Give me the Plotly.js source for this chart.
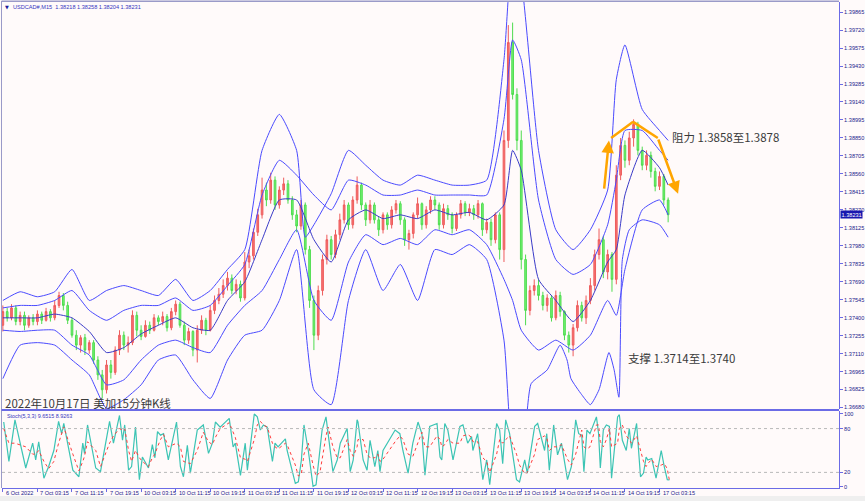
<!DOCTYPE html>
<html><head><meta charset="utf-8">
<script src="https://cdn.plot.ly/plotly-3.0.1.min.js"></script>
<style>html,body{margin:0;padding:0;background:#fffafa;}#chart{width:865px;height:501px;}</style>
</head><body><div id="chart"></div>
<script>
// ---- hourly candles (USDCAD) ----
const open = [1.3734,1.3745,1.3740,1.3748,1.3737,1.3742,1.3734,1.3740,1.3737,1.3743,
1.3738,1.3745,1.3740,1.3750,1.3758,1.3750,1.3738,1.3726,1.3718,1.3724,
1.3714,1.3720,1.3706,1.3694,1.3682,1.3702,1.3696,1.3714,1.3726,1.3718,
1.3720,1.3742,1.3730,1.3725,1.3734,1.3730,1.3740,1.3737,1.3741,1.3732,
1.3745,1.3751,1.3734,1.3722,1.3729,1.3714,1.3730,1.3738,1.3730,1.3746,
1.3754,1.3759,1.3766,1.3772,1.3762,1.3767,1.3756,1.3785,1.3790,1.3809,
1.3823,1.3843,1.3835,1.3851,1.3831,1.3843,1.3848,1.3835,1.3823,1.3814,
1.3831,1.3795,1.3754,1.3726,1.3762,1.3787,1.3803,1.3791,1.3807,1.3819,
1.3831,1.3815,1.3835,1.3847,1.3831,1.3819,1.3831,1.3819,1.3811,1.3823,
1.3815,1.3827,1.3832,1.3819,1.3803,1.3808,1.3823,1.3832,1.3815,1.3827,
1.3835,1.3831,1.3815,1.3828,1.3823,1.3812,1.3823,1.3832,1.3825,1.3828,
1.3823,1.3832,1.3811,1.3817,1.3803,1.3823,1.3795,1.3883,1.3962,1.3920,
1.3883,1.3787,1.3746,1.3762,1.3766,1.3758,1.3750,1.3756,1.3740,1.3758,
1.3745,1.3726,1.3718,1.3732,1.3750,1.3740,1.3754,1.3766,1.3791,1.3803,
1.3777,1.3791,1.3771,1.3855,1.3879,1.3867,1.3885,1.3896,1.3875,1.3863,
1.3871,1.3858,1.3846,1.3854,1.3835];
const high = [1.3750,1.3748,1.3751,1.3750,1.3745,1.3745,1.3742,1.3743,1.3746,1.3745,
1.3748,1.3747,1.3754,1.3761,1.3760,1.3753,1.3740,1.3730,1.3726,1.3727,
1.3722,1.3722,1.3709,1.3698,1.3706,1.3706,1.3717,1.3730,1.3729,1.3725,
1.3746,1.3745,1.3734,1.3738,1.3737,1.3743,1.3742,1.3745,1.3743,1.3748,
1.3754,1.3753,1.3737,1.3732,1.3730,1.3734,1.3742,1.3740,1.3750,1.3758,
1.3764,1.3771,1.3777,1.3775,1.3771,1.3770,1.3793,1.3795,1.3812,1.3828,
1.3853,1.3849,1.3857,1.3854,1.3846,1.3853,1.3851,1.3838,1.3827,1.3835,
1.3833,1.3798,1.3758,1.3766,1.3791,1.3807,1.3806,1.3811,1.3824,1.3835,
1.3833,1.3838,1.3854,1.3849,1.3833,1.3835,1.3833,1.3822,1.3825,1.3825,
1.3830,1.3835,1.3834,1.3821,1.3811,1.3825,1.3837,1.3833,1.3830,1.3838,
1.3838,1.3833,1.3832,1.3831,1.3825,1.3825,1.3835,1.3834,1.3832,1.3831,
1.3835,1.3833,1.3820,1.3820,1.3825,1.3825,1.3891,1.3976,1.3978,1.3925,
1.3891,1.3791,1.3766,1.3771,1.3771,1.3761,1.3759,1.3758,1.3762,1.3761,
1.3746,1.3729,1.3735,1.3754,1.3753,1.3758,1.3772,1.3795,1.3812,1.3806,
1.3795,1.3793,1.3863,1.3885,1.3883,1.3890,1.3900,1.3898,1.3878,1.3875,
1.3874,1.3861,1.3858,1.3856,1.3837];
const low = [1.3729,1.3737,1.3738,1.3734,1.3734,1.3730,1.3732,1.3734,1.3734,1.3735,
1.3737,1.3737,1.3738,1.3748,1.3746,1.3735,1.3724,1.3714,1.3712,1.3710,
1.3711,1.3703,1.3690,1.3675,1.3679,1.3691,1.3694,1.3710,1.3714,1.3712,
1.3718,1.3725,1.3722,1.3724,1.3727,1.3729,1.3734,1.3734,1.3729,1.3730,
1.3742,1.3732,1.3718,1.3719,1.3709,1.3704,1.3727,1.3726,1.3729,1.3743,
1.3751,1.3756,1.3762,1.3759,1.3759,1.3753,1.3754,1.3780,1.3787,1.3806,
1.3820,1.3830,1.3832,1.3827,1.3828,1.3839,1.3832,1.3819,1.3809,1.3811,
1.3791,1.3748,1.3714,1.3722,1.3758,1.3783,1.3787,1.3788,1.3803,1.3816,
1.3811,1.3812,1.3832,1.3827,1.3814,1.3816,1.3816,1.3806,1.3808,1.3811,
1.3812,1.3824,1.3815,1.3798,1.3795,1.3804,1.3820,1.3811,1.3812,1.3824,
1.3827,1.3811,1.3812,1.3819,1.3808,1.3810,1.3820,1.3822,1.3822,1.3819,
1.3820,1.3806,1.3808,1.3798,1.3800,1.3787,1.3785,1.3877,1.3916,1.3875,
1.3779,1.3734,1.3742,1.3758,1.3754,1.3746,1.3745,1.3737,1.3738,1.3741,
1.3722,1.3712,1.3709,1.3729,1.3737,1.3735,1.3751,1.3762,1.3787,1.3772,
1.3771,1.3761,1.3767,1.3851,1.3861,1.3863,1.3878,1.3871,1.3859,1.3859,
1.3853,1.3842,1.3843,1.3831,1.3817];
const close = [1.3745,1.3740,1.3748,1.3737,1.3742,1.3734,1.3740,1.3737,1.3743,1.3738,
1.3745,1.3740,1.3750,1.3758,1.3750,1.3738,1.3726,1.3718,1.3724,1.3714,
1.3720,1.3706,1.3694,1.3682,1.3702,1.3696,1.3714,1.3726,1.3718,1.3720,
1.3742,1.3730,1.3725,1.3734,1.3730,1.3740,1.3737,1.3741,1.3732,1.3745,
1.3751,1.3734,1.3722,1.3729,1.3714,1.3730,1.3738,1.3730,1.3746,1.3754,
1.3759,1.3766,1.3772,1.3762,1.3767,1.3756,1.3785,1.3790,1.3809,1.3823,
1.3843,1.3835,1.3851,1.3831,1.3843,1.3848,1.3835,1.3823,1.3814,1.3831,
1.3795,1.3754,1.3726,1.3762,1.3787,1.3803,1.3791,1.3807,1.3819,1.3831,
1.3815,1.3835,1.3847,1.3831,1.3819,1.3831,1.3819,1.3811,1.3823,1.3815,
1.3827,1.3832,1.3819,1.3803,1.3808,1.3823,1.3832,1.3815,1.3827,1.3835,
1.3831,1.3815,1.3828,1.3823,1.3812,1.3823,1.3832,1.3825,1.3828,1.3823,
1.3832,1.3811,1.3817,1.3803,1.3823,1.3795,1.3883,1.3962,1.3920,1.3883,
1.3787,1.3746,1.3762,1.3766,1.3758,1.3750,1.3756,1.3740,1.3758,1.3745,
1.3726,1.3718,1.3732,1.3750,1.3740,1.3754,1.3766,1.3791,1.3803,1.3777,
1.3791,1.3771,1.3855,1.3879,1.3867,1.3885,1.3896,1.3875,1.3863,1.3871,
1.3858,1.3846,1.3854,1.3835,1.38231];

// ---- band lines (sampled, hour index) ----
const bandX = [0,4,8,12,16,20,24,28,32,36,40,44,48,52,56,60,64,68,72,76,80,84,88,92,96,100,104,108,112,116,118,120,124,128,132,136,140,142,144,148,152,154];
const outerUpperX = [0,4,8,12,16,20,24,28,32,36,40,44,48,52,56,60,64,68,70,72,76,80,84,88,92,96,100,104,108,112,116,118,120,124,128,132,136,140,142,144,148,152,154];
const outerUpper = [1.3754,1.3761,1.3757,1.3761,1.3779,1.3754,1.3762,1.3766,1.3762,1.3758,1.3771,1.3754,1.3762,1.3779,1.3795,1.3875,1.3904,1.3875,1.3805,1.3815,1.3840,1.3875,1.3863,1.3851,1.3847,1.3855,1.3851,1.3847,1.3847,1.3851,1.3948,1.4037,1.4012,1.3875,1.3811,1.3795,1.3811,1.3843,1.3932,1.3960,1.3908,1.3891,1.3883];
const innerUpper = [1.3748,1.3750,1.3750,1.3754,1.3762,1.3746,1.3738,1.3746,1.3750,1.3750,1.3756,1.3746,1.3750,1.3766,1.3783,1.3839,1.3867,1.3855,1.3839,1.3827,1.3851,1.3847,1.3839,1.3839,1.3843,1.3839,1.3839,1.3839,1.3839,1.3900,1.3964,1.3948,1.3835,1.3787,1.3775,1.3783,1.3815,1.3851,1.3891,1.3891,1.3875,1.3867];
const middle = [1.3740,1.3740,1.3740,1.3743,1.3740,1.3729,1.3712,1.3716,1.3727,1.3734,1.3740,1.3732,1.3730,1.3754,1.3769,1.3803,1.3835,1.3835,1.3803,1.3785,1.3819,1.3827,1.3820,1.3823,1.3820,1.3827,1.3823,1.3825,1.3819,1.3831,1.3875,1.3859,1.3771,1.3754,1.3737,1.3754,1.3785,1.3795,1.3839,1.3875,1.3861,1.3847];
const innerLower = [1.3730,1.3729,1.3730,1.3730,1.3718,1.3710,1.3686,1.3690,1.3706,1.3718,1.3722,1.3716,1.3712,1.3734,1.3750,1.3762,1.3787,1.3811,1.3754,1.3738,1.3785,1.3807,1.3799,1.3804,1.3799,1.3811,1.3807,1.3811,1.3799,1.3771,1.3754,1.3730,1.3714,1.3722,1.3714,1.3726,1.3754,1.3742,1.3779,1.3827,1.3835,1.3823];
const outerLowerX = [0,4,8,12,16,20,24,28,32,36,40,44,48,52,56,60,64,68,72,76,80,84,88,92,96,100,104,108,112,116,118,120,121,122.3,126,129,130.6,131.5,134,136,138,140.3,141.5,142.6,143.4,145,148,152,154];
const outerLower = [1.3691,1.3718,1.3720,1.3718,1.3706,1.3694,1.3667,1.3674,1.3686,1.3706,1.3710,1.3690,1.3675,1.3706,1.3726,1.3730,1.3754,1.3795,1.3682,1.3670,1.3754,1.3795,1.3762,1.3783,1.3754,1.3795,1.3791,1.3799,1.3787,1.3722,1.3634,1.3625,1.3650,1.3687,1.3698,1.3718,1.3706,1.3691,1.3678,1.3670,1.3682,1.3712,1.3698,1.3676,1.3787,1.3811,1.3819,1.3815,1.3805];

// ---- stochastic (5,3,3) ----
const stochX = [0.2,1.4,2.8,5.3,6.9,7.6,8.3,9.5,10.6,11.8,12.9,13.6,14.1,16.2,17.6,18.5,18.9,19.6,21.5,22.6,24.7,25.6,27.0,27.7,28.2,29.1,29.8,30.7,31.6,32.3,33.7,34.6,35.2,35.8,36.5,37.2,38.3,40.2,41.1,41.8,42.7,43.4,45.0,46.4,47.6,48.5,49.2,50.3,52.4,53.3,53.8,55.0,56.1,56.6,58.2,58.9,59.6,60.3,61.2,62.4,63.0,63.7,65.4,65.8,67.7,68.4,69.1,69.7,70.7,71.8,72.5,73.4,73.9,74.8,75.3,76.4,77.4,78.1,79.7,80.4,81.1,82.0,82.2,83.4,84.3,85.0,86.1,86.8,87.3,88.0,90.8,91.9,92.6,93.8,94.9,96.1,97.0,97.7,98.8,100.5,101.2,101.6,102.3,103.0,104.2,105.8,106.5,107.6,108.5,108.8,109.9,111.1,112.0,112.7,114.3,115.0,115.7,116.4,117.3,118.9,119.6,120.8,121.4,123.1,123.8,125.4,125.9,126.5,127.5,128.4,129.3,130.7,131.6,132.6,133.3,134.0,134.5,135.2,135.9,137.1,137.4,137.9,138.3,139.0,139.7,140.4,140.9,142.3,142.7,143.4,144.3,145.0,145.5,146.7,147.6,148.3,148.9,149.3,150.2,151.2,152.4,153.1,153.8,154.3];
const stochK = [89,35,92,26,60,37,62,12,28,50,90,73,87,23,14,60,46,85,26,21,90,60,98,64,85,23,28,82,10,41,26,58,40,76,71,73,37,89,28,14,57,19,78,85,46,60,89,82,94,55,60,16,60,23,100,96,78,85,82,35,60,55,66,50,5,7,37,85,50,1,3,48,78,96,73,21,37,60,80,21,37,92,89,37,23,64,28,50,21,50,78,73,50,19,60,89,73,16,83,87,41,37,87,78,37,83,85,60,69,50,73,10,37,3,87,78,32,92,73,10,7,37,19,83,87,50,73,23,85,44,60,10,28,92,73,71,21,78,73,92,96,73,26,78,85,83,12,96,99,64,50,80,53,87,14,19,41,37,39,12,50,28,10,9.65];
const stochD = [80,60,60,55,45,45,50,35,25,35,60,75,82,45,22,35,42,62,50,28,60,70,80,78,80,50,35,50,40,35,28,40,45,55,65,72,55,60,55,35,33,32,50,75,62,58,68,80,88,75,68,40,38,35,65,85,90,85,82,60,55,52,60,58,30,15,18,45,60,30,15,20,40,70,82,55,40,40,65,50,42,55,65,65,45,40,40,45,35,38,62,70,65,45,42,60,75,55,55,70,65,55,58,65,60,60,70,72,68,62,62,40,35,20,45,65,60,65,70,45,30,18,20,45,65,70,68,50,55,55,58,38,30,45,62,78,55,52,55,78,85,85,62,55,65,80,55,60,80,85,70,65,60,70,50,35,28,32,38,28,30,32,25,8.93];

// ---- axis labels ----
const timeTickPos = [0,8,16,24,32,40,48,56,64,72,80,88,96,104,112,120,128,136,144,152];
const timeTickText = ['6 Oct 2022','7 Oct 03:15','7 Oct 11:15','7 Oct 19:15','10 Oct 03:15','10 Oct 11:15','10 Oct 19:15','11 Oct 03:15','11 Oct 11:15','11 Oct 19:15','12 Oct 03:15','12 Oct 11:15','12 Oct 19:15','13 Oct 03:15','13 Oct 11:15','13 Oct 19:15','14 Oct 03:15','14 Oct 11:15','14 Oct 19:15','17 Oct 03:15'];
const priceTicks = [1.39865,1.39720,1.39575,1.39430,1.39285,1.39140,1.38995,1.38850,1.38705,1.38560,1.38415,1.38270,1.38125,1.37980,1.37835,1.37690,1.37545,1.37400,1.37255,1.37110,1.36965,1.36825,1.36680];
const stochTicks = [0,20,80,100];
const lastPrice = 1.38231;

// pixel -> paper helpers (positioning only)
const fx = px => (px - 2) / 837;
const fy = py => (488 - py) / 486;

const AX = '#6b6be6', TXT = '#22228c';
const tf = {family:'Liberation Sans, Arial, sans-serif', size:5.6, color:TXT};
const idx = open.map((_, i) => i);

const bandLine = (xs, y, c, w) => ({type:'scatter', mode:'lines', x:xs, y:y, xaxis:'x', yaxis:'y',
  line:{color:c, width:w, shape:'spline', smoothing:0.5}, hoverinfo:'skip'});

const traces = [
  bandLine(outerUpperX, outerUpper, '#4a4aff', 1),
  bandLine(outerLowerX, outerLower, '#4a4aff', 1),
  bandLine(bandX, innerUpper, '#4a4aff', 1),
  bandLine(bandX, innerLower, '#4a4aff', 1),
  {type:'candlestick', x:idx, open:open, high:high, low:low, close:close, xaxis:'x', yaxis:'y',
   increasing:{line:{color:'#ee5c5c', width:1}, fillcolor:'#f77272'},
   decreasing:{line:{color:'#4fdc4f', width:1}, fillcolor:'#74f274'},
   whiskerwidth:0, hoverinfo:'skip'},
  bandLine(bandX, middle, '#3a3ac8', 1),
  {type:'scatter', mode:'lines', x:stochX, y:stochK, xaxis:'x', yaxis:'y2', line:{color:'#3cc4b4', width:1.2}, hoverinfo:'skip'},
  {type:'scatter', mode:'lines', x:stochX, y:stochD, xaxis:'x', yaxis:'y2', line:{color:'#ff3c3c', width:1, dash:'dot'}, hoverinfo:'skip'}
];

const orange = '#ffa500';
const shapes = [
  {type:'rect', xref:'paper', yref:'paper', x0:-0.01, x1:1.04, y0:fy(496), y1:fy(502), fillcolor:'#efefef', line:{width:0}, layer:'below'},
  {type:'line', xref:'paper', yref:'paper', x0:fx(1.5), x1:fx(1.5), y0:fy(1), y1:fy(488), line:{color:'#9a9ac8', width:1}},
  {type:'line', xref:'paper', yref:'paper', x0:fx(1.5), x1:1, y0:fy(1.2), y1:fy(1.2), line:{color:'#9a9ac8', width:1.5}},
  {type:'line', xref:'paper', yref:'paper', x0:fx(1.5), x1:1, y0:fy(410), y1:fy(410), line:{color:AX, width:2}},
  {type:'line', xref:'x', yref:'y2', x0:-0.2, x1:193.55, y0:80, y1:80, line:{color:'#b8b8b8', width:1, dash:'dot'}},
  {type:'line', xref:'x', yref:'y2', x0:-0.2, x1:193.55, y0:20, y1:20, line:{color:'#b8b8b8', width:1, dash:'dot'}},
  {type:'line', xref:'x', yref:'y', x0:140.8, y0:1.3885, x1:145.9, y1:1.3898, line:{color:orange, width:2.5}},
  {type:'line', xref:'x', yref:'y', x0:145.9, y0:1.3898, x1:151.6, y1:1.3885, line:{color:orange, width:2.5}}
];

const cjk = {family:'Noto Sans CJK SC, sans-serif', size:11.5, color:'#3a3a3a'};
const annotations = [
  {xref:'x', yref:'y', x:140.3, y:1.3883, ax:139.15, ay:1.3843, axref:'x', ayref:'y', showarrow:true, arrowhead:2, arrowsize:1, arrowwidth:2.5, arrowcolor:orange, text:''},
  {xref:'x', yref:'y', x:156.3, y:1.3840, ax:151.6, ay:1.3885, axref:'x', ayref:'y', showarrow:true, arrowhead:2, arrowsize:1, arrowwidth:2.5, arrowcolor:orange, text:''},
  {xref:'paper', yref:'paper', x:fx(670), y:fy(137), xanchor:'left', yanchor:'middle', showarrow:false, text:'阻力 1.3858至1.3878', font:cjk},
  {xref:'paper', yref:'paper', x:fx(626), y:fy(358), xanchor:'left', yanchor:'middle', showarrow:false, text:'支撑 1.3714至1.3740', font:cjk},
  {xref:'paper', yref:'paper', x:fx(3), y:fy(403), xanchor:'left', yanchor:'middle', showarrow:false, text:'2022年10月17日 美加15分钟K线', font:cjk},
  {xref:'paper', yref:'paper', x:fx(3), y:fy(7), xanchor:'left', yanchor:'middle', showarrow:false, text:'▼', font:{family:'DejaVu Sans', size:5, color:'#1a1a9a'}},
  {xref:'paper', yref:'paper', x:fx(11), y:fy(7), xanchor:'left', yanchor:'middle', showarrow:false, text:'USDCAD#,M15  1.38218 1.38258 1.38204 1.38231', font:{family:'Liberation Sans, Arial', size:5.6, color:'#3535c0'}},
  {xref:'paper', yref:'paper', x:fx(5), y:fy(416), xanchor:'left', yanchor:'middle', showarrow:false, text:'Stoch(5,3,3) 9.6515 8.9263', font:{family:'Liberation Sans, Arial', size:5.4, color:'#3535c0'}},
  {xref:'paper', yref:'y', x:fx(840), y:lastPrice, xanchor:'left', yanchor:'middle', showarrow:false, text:'1.38231', bgcolor:'#1818b0', borderpad:0.5, font:{family:'Liberation Sans, Arial', size:5.6, color:'#ffffff'}}
];
// time labels drawn left-aligned at their ticks, as the terminal does
timeTickPos.forEach((p, i) => annotations.push({xref:'x', yref:'paper', x:p, y:fy(492.5), xanchor:'left', xshift:1, yanchor:'middle', showarrow:false, text:timeTickText[i], font:tf}));

const layout = {
  width:865, height:501, margin:{l:2, r:26, t:2, b:13, pad:0},
  paper_bgcolor:'#fffafa', plot_bgcolor:'#fffafa', showlegend:false, hovermode:false, boxgap:0.45,
  xaxis:{range:[-0.2,193.55], anchor:'y2', showgrid:false, zeroline:false, showline:true, linecolor:AX, linewidth:1,
    ticks:'outside', ticklen:3, tickcolor:AX, tickvals:timeTickPos, showticklabels:false,
    rangeslider:{visible:false}, fixedrange:true},
  yaxis:{domain:[fy(409),1], range:[1.36665,1.39946], side:'right', anchor:'x', showgrid:false, zeroline:false, showline:true,
    linecolor:AX, linewidth:1, ticks:'outside', ticklen:3, tickcolor:AX, tickvals:priceTicks,
    ticktext:priceTicks.map(v => v.toFixed(5)), tickfont:tf, fixedrange:true},
  yaxis2:{domain:[0,fy(411)], range:[-1.4,104.1], side:'right', anchor:'x', showgrid:false, zeroline:false, showline:true,
    linecolor:AX, linewidth:1, ticks:'outside', ticklen:3, tickcolor:AX, tickvals:stochTicks, ticktext:stochTicks.map(String), tickfont:tf, fixedrange:true},
  shapes:shapes, annotations:annotations
};

Plotly.newPlot('chart', traces, layout, {staticPlot:true, displayModeBar:false});
</script></body></html>
